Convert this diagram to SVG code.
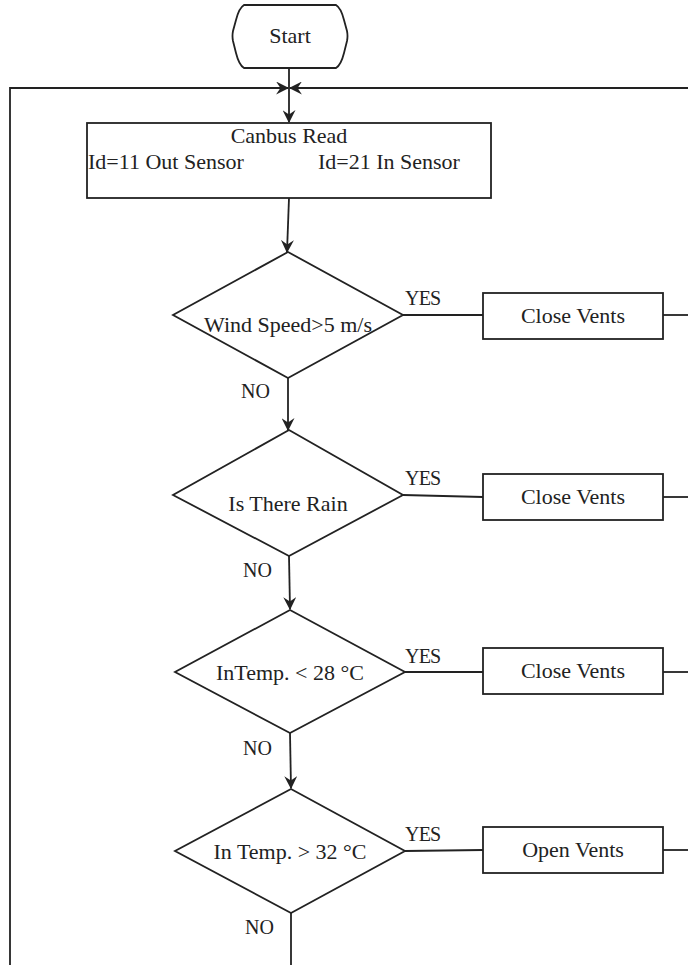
<svg xmlns="http://www.w3.org/2000/svg" width="688" height="965" viewBox="0 0 688 965">
  <style>
    .shape { fill: #ffffff; stroke: #222222; stroke-width: 1.8; }
    .line { fill: none; stroke: #222222; stroke-width: 1.8; }
    .t { font-family: "Liberation Serif", "Times New Roman", serif; font-size: 22px; fill: #222222; }
    .c { text-anchor: middle; }
    .lbl { font-family: "Liberation Serif", "Times New Roman", serif; font-size: 20px; fill: #222222; }
    .yes { letter-spacing: -0.8px; }
  </style>
  <defs>
    <marker id="arrow" viewBox="0 0 12 12" refX="11" refY="6" markerWidth="13" markerHeight="13" markerUnits="userSpaceOnUse" orient="auto">
      <path d="M0,0 L12,6 L0,12 L4,6 Z" fill="#222222"/>
    </marker>
  </defs>
  <rect width="688" height="965" fill="#ffffff"/>

  <!-- connectors -->
  <g id="connectors">
    <!-- start to read -->
    <path class="line" d="M289,68 L289,122" marker-end="url(#arrow)"/>
    <!-- loop return lines -->
    <path class="line" d="M10,965 L10,88 L288,88" marker-end="url(#arrow)"/>
    <path class="line" d="M688,88 L290,88" marker-end="url(#arrow)"/>
    <!-- read to first decision -->
    <path class="line" d="M289,198 L287,252" marker-end="url(#arrow)"/>
    <!-- NO branches -->
    <path class="line" d="M288,378 L288,430" marker-end="url(#arrow)"/>
    <path class="line" d="M289,556 L290,609" marker-end="url(#arrow)"/>
    <path class="line" d="M290,733 L291,788" marker-end="url(#arrow)"/>
    <path class="line" d="M291,913 L291,965"/>
    <!-- YES branches -->
    <path class="line" d="M403,315 L483,315"/>
    <path class="line" d="M403,495 L483,497"/>
    <path class="line" d="M405,672 L483,672"/>
    <path class="line" d="M405,851 L483,850"/>
    <!-- action outputs to right edge -->
    <path class="line" d="M663,315 L688,315"/>
    <path class="line" d="M663,497 L688,497"/>
    <path class="line" d="M663,672 L688,672"/>
    <path class="line" d="M663,850 L688,850"/>
    <!-- branch labels -->
    <text class="lbl yes" x="405" y="305">YES</text>
    <text class="lbl" x="241" y="398">NO</text>
    <text class="lbl yes" x="405" y="485">YES</text>
    <text class="lbl" x="243" y="577">NO</text>
    <text class="lbl yes" x="405" y="663">YES</text>
    <text class="lbl" x="243" y="755">NO</text>
    <text class="lbl yes" x="405" y="841">YES</text>
    <text class="lbl" x="245" y="934">NO</text>
  </g>

  <g id="start">
    <path class="shape" d="M244,5 L336,5 Q341,8 344,20 L347,31 Q348,36 347,41 L344,53 Q341,65 336,68 L244,68 Q239,65 236,53 L233,41 Q232,36 233,31 L236,20 Q239,8 244,5 Z"/>
    <text class="t c" x="290" y="43">Start</text>
  </g>

  <g id="canbus-read">
    <rect class="shape" x="87" y="123" width="404" height="75"/>
    <text class="t c" x="289" y="143">Canbus Read</text>
    <text class="t" x="88" y="169">Id=11 Out Sensor</text>
    <text class="t" x="318" y="169">Id=21 In Sensor</text>
  </g>

  <g id="wind-check">
    <path class="shape" d="M288,252 L403,315 L288,378 L173,315 Z"/>
    <text class="t c" x="288" y="332">Wind Speed&gt;5 m/s</text>
  </g>
  <g id="close-vents-1">
    <rect class="shape" x="483" y="293" width="180" height="46"/>
    <text class="t c" x="573" y="323">Close Vents</text>
  </g>

  <g id="rain-check">
    <path class="shape" d="M289,430 L403,495 L289,556 L173,495 Z"/>
    <text class="t c" x="288" y="511">Is There Rain</text>
  </g>
  <g id="close-vents-2">
    <rect class="shape" x="483" y="474" width="180" height="46"/>
    <text class="t c" x="573" y="504">Close Vents</text>
  </g>

  <g id="low-temp-check">
    <path class="shape" d="M290,610 L405,672 L290,733 L175,672 Z"/>
    <text class="t c" x="290" y="680">InTemp. &lt; 28 °C</text>
  </g>
  <g id="close-vents-3">
    <rect class="shape" x="483" y="648" width="180" height="46"/>
    <text class="t c" x="573" y="678">Close Vents</text>
  </g>

  <g id="high-temp-check">
    <path class="shape" d="M291,789 L405,851 L291,913 L175,851 Z"/>
    <text class="t c" x="290" y="859">In Temp. &gt; 32 °C</text>
  </g>
  <g id="open-vents">
    <rect class="shape" x="483" y="827" width="180" height="46"/>
    <text class="t c" x="573" y="857">Open Vents</text>
  </g>
</svg>
